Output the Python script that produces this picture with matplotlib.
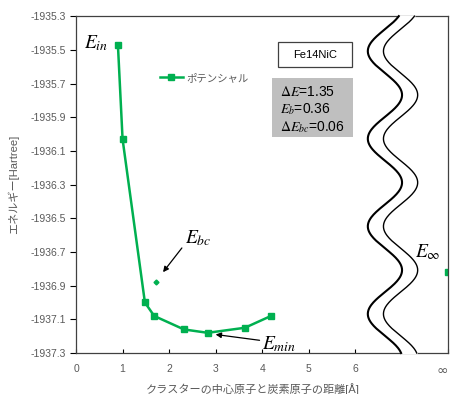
import numpy as np
import matplotlib.pyplot as plt
from matplotlib.patches import Rectangle

plt.rcParams['font.family'] = ['Liberation Sans', 'Noto Sans CJK JP', 'DejaVu Sans']
plt.rcParams['mathtext.fontset'] = 'stix'

# 距離[Å] と全エネルギー[Hartree]
dist = [0.90, 1.00, 1.48, 1.68, 2.32, 2.83, 3.63, 4.19]
energy = [-1935.47, -1936.03, -1937.00, -1937.08, -1937.16, -1937.18, -1937.15, -1937.08]
# 炭素が境界中心にある場合
bc_dist = [1.71]
bc_energy = [-1936.88]
# 無限遠 (x=8 を ∞ として描く)
inf_dist = [8.0]
inf_energy = [-1936.82]

xticks = [0, 1, 2, 3, 4, 5, 6, 8]
xticklabels = ['0', '1', '2', '3', '4', '5', '6', '∞']
yticks = [-1937.3, -1937.1, -1936.9, -1936.7, -1936.5, -1936.3, -1936.1, -1935.9, -1935.7, -1935.5, -1935.3]

green = '#00b050'
grey = '#595959'

fig = plt.figure(figsize=(4.5, 3.94), dpi=100)
ax = fig.add_axes([0.169, 0.104, 0.827, 0.855])

ax.plot(dist, energy, '-s', color=green, lw=1.8, ms=5, label='ポテンシャル')
ax.plot(bc_dist, bc_energy, 'D', color=green, ms=2.5)
ax.plot(inf_dist, inf_energy, 's', color=green, ms=5)

ax.set_xlim(0, 8)
ax.set_ylim(-1937.3, -1935.3)
ax.set_xticks(xticks)
ax.set_xticklabels(xticklabels)
ax.set_yticks(yticks)
ax.set_yticklabels(['%.1f' % v for v in yticks])
ax.tick_params(axis='x', direction='in', length=3, labelsize=7.5, labelcolor=grey, pad=8)
ax.tick_params(axis='y', direction='out', length=4, labelsize=7.5, labelcolor=grey)
inf_label = ax.get_xticklabels()[-1]
inf_label.set_horizontalalignment('right')
inf_label.set_fontfamily('DejaVu Sans')
inf_label.set_fontsize(10)
for s in ax.spines.values():
    s.set_color('#404040')
    s.set_linewidth(0.9)

ax.set_xlabel('クラスターの中心原子と炭素原子の距離[Å]', fontsize=8, color=grey, labelpad=6)
ax.xaxis.set_label_coords(0.475, -0.09)
ax.set_ylabel('エネルギー[Hartree]', fontsize=8, color=grey, labelpad=8)

leg = ax.legend(loc='upper left', bbox_to_anchor=(0.2, 0.86), frameon=False,
                fontsize=7.5, handlelength=2.2, handletextpad=0.3)
for t in leg.get_texts():
    t.set_color(grey)

# 軸の省略記号 (波線)
yy = np.linspace(0, 1, 400)
xl = 0.83 - 0.046 * np.cos(2 * np.pi * (yy - 0.116) / 0.26)
xr = xl + 0.042
ax.fill_betweenx(yy, xl, xr, color='white', transform=ax.transAxes, clip_on=False, zorder=5)
ax.plot(xl, yy, color='black', lw=1.5, transform=ax.transAxes, clip_on=False, zorder=6)
ax.plot(xr, yy, color='black', lw=1.0, transform=ax.transAxes, clip_on=False, zorder=6)

# 系の名前とエネルギー差
ax.add_patch(Rectangle((0.543, 0.848), 0.199, 0.075, transform=ax.transAxes,
                       facecolor='white', edgecolor='#404040', lw=0.9, zorder=4))
ax.text(0.6425, 0.8855, 'Fe14NiC', transform=ax.transAxes, ha='center', va='center',
        fontsize=8, zorder=5)
ax.add_patch(Rectangle((0.527, 0.64), 0.218, 0.175, transform=ax.transAxes,
                       facecolor='#bfbfbf', edgecolor='none', zorder=4))
ax.text(0.548, 0.774, r'$\Delta E$=1.35', transform=ax.transAxes, va='center', fontsize=10, zorder=5)
ax.text(0.548, 0.723, r'$E_b$=0.36', transform=ax.transAxes, va='center', fontsize=10, zorder=5)
ax.text(0.548, 0.672, r'$\Delta E_{bc}$=0.06', transform=ax.transAxes, va='center', fontsize=10, zorder=5)

ax.text(0.054, 0.92, r'$E_{in}$', transform=ax.transAxes, ha='center', va='center', fontsize=14)
ax.text(0.944, 0.30, r'$E_\infty$', transform=ax.transAxes, ha='center', va='center', fontsize=14, zorder=7)

arrow = dict(arrowstyle='-|>', color='black', lw=0.9, mutation_scale=8, shrinkA=0, shrinkB=0)
ax.annotate(r'$E_{bc}$', xy=(1.87, -1936.82), xytext=(2.62, -1936.62), fontsize=14,
            ha='center', va='center', arrowprops=dict(arrow, relpos=(0.0, 0.2)))
ax.annotate(r'$E_{min}$', xy=(3.0, -1937.19), xytext=(4.37, -1937.25), fontsize=14,
            ha='center', va='center', arrowprops=dict(arrow, relpos=(0.0, 0.7)))

fig.savefig('out.png', dpi=100)
